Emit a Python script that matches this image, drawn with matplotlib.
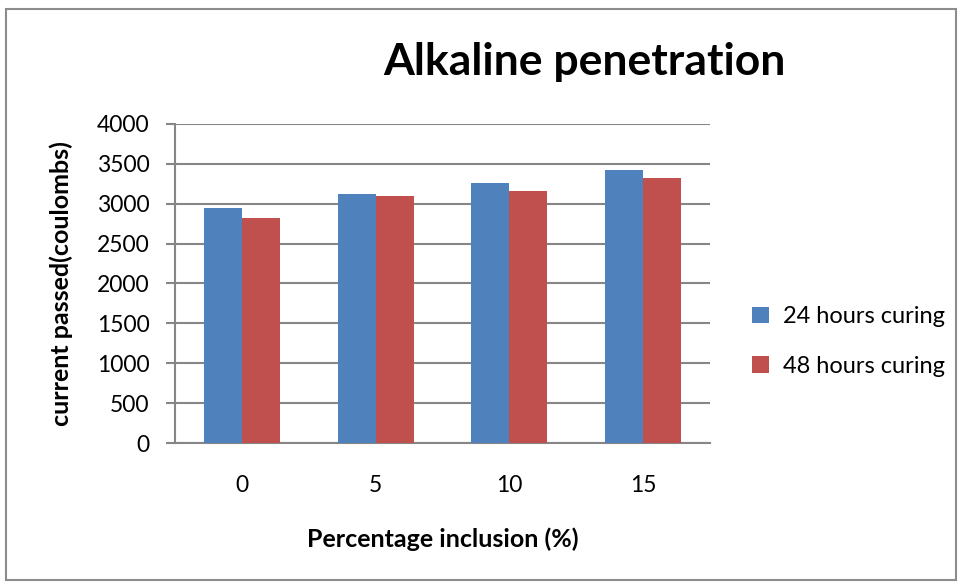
import numpy as np
import matplotlib
matplotlib.use('Agg')
import matplotlib.pyplot as plt
from matplotlib.patches import Rectangle

# data
categories = ['0', '5', '10', '15']
series_names = ['24 hours curing', '48 hours curing']
hours_24 = [2945, 3115, 3262, 3425]
hours_48 = [2820, 3090, 3162, 3325]
y_ticks = [0, 500, 1000, 1500, 2000, 2500, 3000, 3500, 4000]

blue = '#4f81bd'
red = '#c0504d'
grid_grey = '#868686'

plt.rcParams['font.family'] = ['Lato', 'DejaVu Sans']

fig = plt.figure(figsize=(9.62, 5.84), dpi=100, facecolor='white')
ax = fig.add_axes([0.182, 0.2414, 0.556, 0.5466])

# Excel-style chart border
fig.patches.append(Rectangle((0.006, 0.006), 0.988, 0.978, transform=fig.transFigure,
                             fill=False, edgecolor='#8c8c8c', linewidth=1.5))

x = np.arange(len(categories))
width = 0.57 / 2
ax.bar(x - width / 2, hours_24, width, color=blue, label=series_names[0], zorder=3)
ax.bar(x + width / 2, hours_48, width, color=red, label=series_names[1], zorder=3)

ax.set_xlim(-0.5, len(categories) - 0.5)
ax.set_ylim(0, 4000)
ax.set_yticks(y_ticks)
ax.set_xticks(x)
ax.set_xticklabels(categories)
ax.yaxis.grid(True, color=grid_grey, linewidth=1.5, zorder=0)
ax.set_axisbelow(True)

for side in ['top', 'right']:
    ax.spines[side].set_visible(False)
ax.spines['left'].set_color(grid_grey)
ax.spines['left'].set_linewidth(1.5)
ax.spines['bottom'].set_color(grid_grey)
ax.spines['bottom'].set_linewidth(1.5)
ax.tick_params(axis='y', length=6.5, width=1.5, color=grid_grey, labelsize=16.5, pad=12)
ax.tick_params(axis='x', length=0, labelsize=16.5, pad=23)

fig.text(0.608, 0.893, 'Alkaline penetration', ha='center', va='center',
         fontsize=32, fontweight='bold')
ax.set_ylabel('current passed(coulombs)', fontsize=18, fontweight='bold')
ax.yaxis.set_label_coords(-0.19, 0.5)
ax.set_xlabel('Percentage inclusion (%)', fontsize=18, fontweight='bold')
ax.xaxis.set_label_coords(0.5, -0.265)

ax.legend(loc='center left', bbox_to_anchor=(0.760, 0.415),
          bbox_transform=fig.transFigure, frameon=False,
          fontsize=17, handlelength=0.7, handleheight=0.7, handletextpad=0.6,
          labelspacing=1.2)

fig.savefig('out.png', dpi=100, facecolor='white')
